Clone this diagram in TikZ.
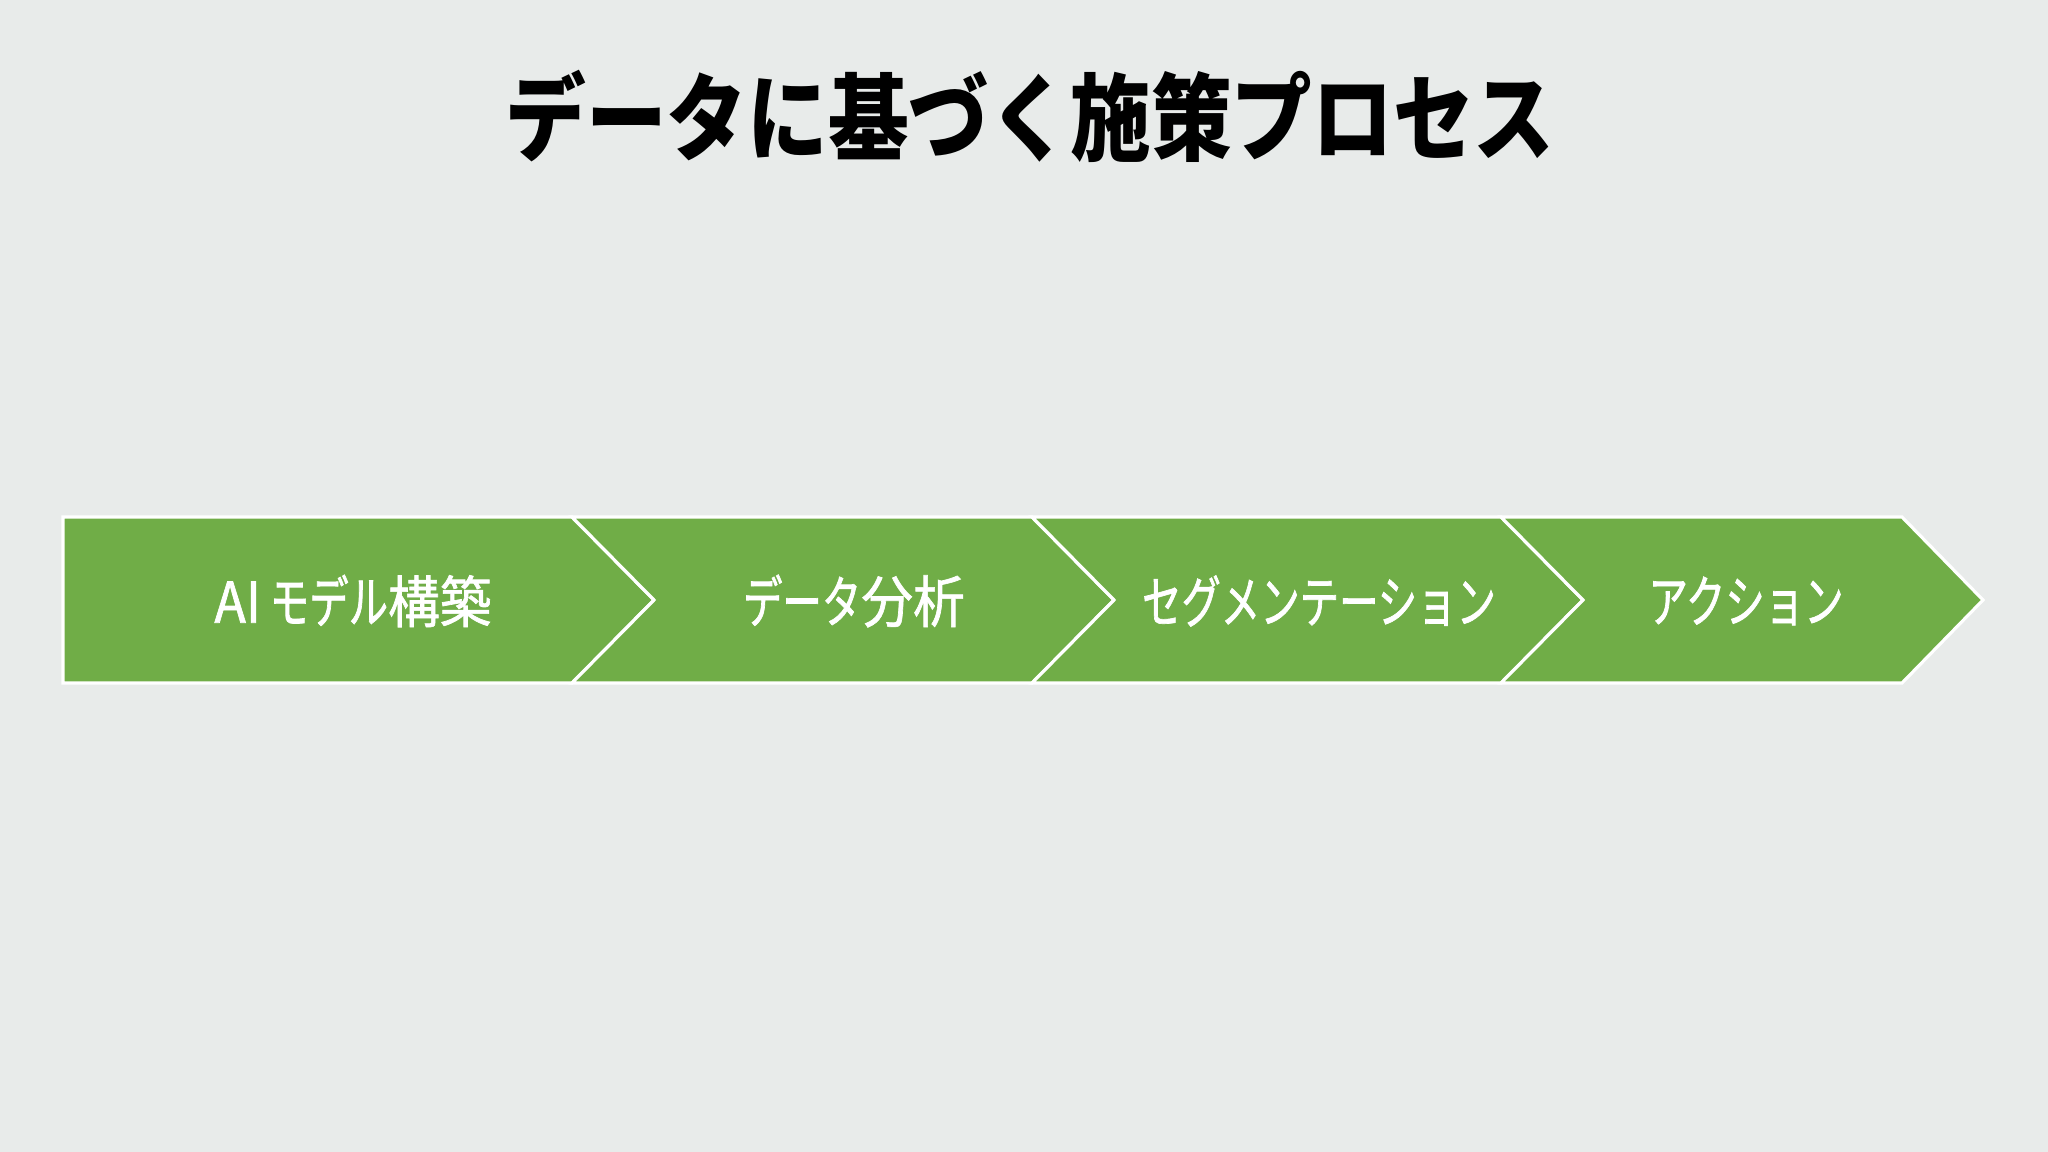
\documentclass[tikz,border=0pt]{standalone}
\usepackage{fontspec}
\setmainfont{Noto Sans CJK JP}
\newfontfamily\jpfont[FakeStretch=0.7, FakeBold=1.2]{Noto Sans CJK JP}
\newfontfamily\jpwide[FakeStretch=0.92, FakeBold=1.2]{Noto Sans CJK JP}
\newfontfamily\jptitle[FakeStretch=0.85]{Noto Sans CJK JP}
\usepackage{tikz}
\usetikzlibrary{positioning}
\definecolor{slidebg}{HTML}{E8EBEA}
\definecolor{stepgreen}{HTML}{70AD47}
\tikzset{
    x=0.01cm, y=-0.01cm, % one unit is one pixel of the slide
    stage/.style={fill=stepgreen, draw=white, line width=0.9pt, line join=miter}, % the green arrow pieces
    stagetext/.style={text=white, font=\jpfont\fontsize{16pt}{18pt}\selectfont}, % labels in the pieces
    headline/.style={font=\jptitle\bfseries\fontsize{27pt}{31pt}\selectfont}, % slide title
}
\begin{document}
\begin{tikzpicture}
            \fill[slidebg] (0,0) rectangle (2048,1152);
            \useasboundingbox (0,0) rectangle (2048,1152);

            \node[headline] (title) at (1030,116) {データに基づく施策プロセス};

            % the four pieces of the process arrow
            \draw[stage] (63,517) -- (572,517) -- (654,600) -- (572,683) -- (63,683) -- cycle;
            \draw[stage] (572,517) -- (1032,517) -- (1114,600) -- (1032,683) -- (572,683) -- (654,600) -- cycle;
            \draw[stage] (1032,517) -- (1501,517) -- (1583,600) -- (1501,683) -- (1032,683) -- (1114,600) -- cycle;
            \draw[stage] (1501,517) -- (1902,517) -- (1983,600) -- (1902,683) -- (1501,683) -- (1583,600) -- cycle;

            \node[stagetext] (model) at (353,601) {{\jpwide AI} モデル{\jpwide 構築}};
            \node[stagetext] (analysis) at (854,601) {データ{\jpwide 分析}};
            \node[stagetext] (segment) at (1319,601) {セグメンテーション};
            \node[stagetext] (action) at (1746,601) {アクション};
        \end{tikzpicture}
\end{document}
